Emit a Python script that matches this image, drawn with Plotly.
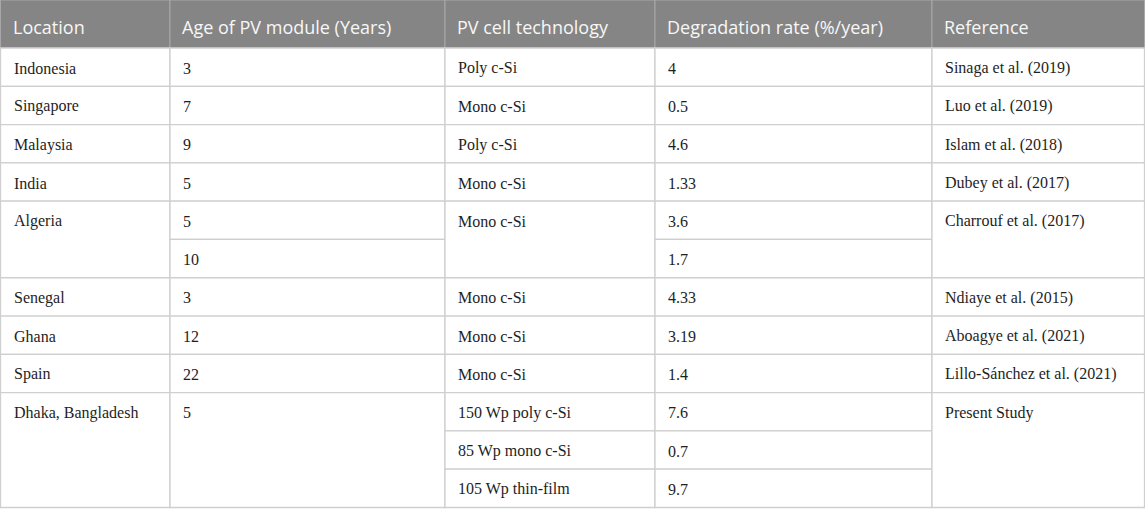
import plotly.graph_objects as go

# table content
headers = ["Location", "Age of PV module (Years)", "PV cell technology",
           "Degradation rate (%/year)", "Reference"]

locations = ["Indonesia", "Singapore", "Malaysia", "India", "Algeria",
             "Senegal", "Ghana", "Spain", "Dhaka, Bangladesh"]
location_span = [1, 1, 1, 1, 2, 1, 1, 1, 3]

ages = ["3", "7", "9", "5", "5", "10", "3", "12", "22", "5"]
age_span = [1, 1, 1, 1, 1, 1, 1, 1, 1, 3]

technologies = ["Poly c-Si", "Mono c-Si", "Poly c-Si", "Mono c-Si", "Mono c-Si",
                "Mono c-Si", "Mono c-Si", "Mono c-Si",
                "150 Wp poly c-Si", "85 Wp mono c-Si", "105 Wp thin-film"]
technology_span = [1, 1, 1, 1, 2, 1, 1, 1, 1, 1, 1]

rates = ["4", "0.5", "4.6", "1.33", "3.6", "1.7", "4.33", "3.19", "1.4",
         "7.6", "0.7", "9.7"]
rate_span = [1] * 12

references = ["Sinaga et al. (2019)", "Luo et al. (2019)", "Islam et al. (2018)",
              "Dubey et al. (2017)", "Charrouf et al. (2017)", "Ndiaye et al. (2015)",
              "Aboagye et al. (2021)", "Lillo-Sánchez et al. (2021)", "Present Study"]
reference_span = [1, 1, 1, 1, 2, 1, 1, 1, 3]

columns = [(locations, location_span), (ages, age_span),
           (technologies, technology_span), (rates, rate_span),
           (references, reference_span)]

# layout in axis units (= pixels)
W, H = 1145, 510
col_edges = [0.5, 170, 445, 655, 932, 1144.5]
header_h = 48
n_rows = 12
row_h = (507.5 - header_h) / n_rows
pad = 11
border = "#cfcfcf"
header_fill = "#858585"

fig = go.Figure()
shapes = []
annotations = []

# header
for i, h in enumerate(headers):
    x0, x1 = col_edges[i], col_edges[i + 1]
    shapes.append(dict(type="rect", x0=x0, x1=x1, y0=0, y1=header_h,
                       fillcolor=header_fill, line=dict(color="#a8a8a8", width=1),
                       layer="below"))
    annotations.append(dict(x=x0 + pad - 1, y=header_h / 2 + 3, text=h,
                            xanchor="left", yanchor="middle", showarrow=False,
                            font=dict(family="Open Sans", size=18, color="#f7f7f7")))

# body cells, honouring row spans
for i, (vals, spans) in enumerate(columns):
    x0, x1 = col_edges[i], col_edges[i + 1]
    r = 0
    for v, s in zip(vals, spans):
        y0 = header_h + r * row_h
        y1 = header_h + (r + s) * row_h
        shapes.append(dict(type="rect", x0=x0, x1=x1, y0=y0, y1=y1,
                           fillcolor="white", line=dict(color=border, width=1.3),
                           layer="below"))
        annotations.append(dict(x=x0 + pad, y=y0 + row_h / 2 + 1, text=v,
                                xanchor="left", yanchor="middle", showarrow=False,
                                font=dict(family="Liberation Serif", size=16,
                                          color="#1e1e1e")))
        r += s

# invisible trace so the axes are drawn
fig.add_trace(go.Scatter(x=[0, W], y=[0, H], mode="markers",
                         marker=dict(opacity=0), hoverinfo="skip", showlegend=False))

fig.update_layout(
    width=W, height=H,
    margin=dict(l=0, r=0, t=0, b=0),
    plot_bgcolor="white", paper_bgcolor="white",
    shapes=shapes, annotations=annotations,
    xaxis=dict(range=[0, W], visible=False, fixedrange=True),
    yaxis=dict(range=[H, 0], visible=False, fixedrange=True),
)

fig.write_html("out.html", config={"displayModeBar": False},
               post_script="document.body.style.margin='0px';")
